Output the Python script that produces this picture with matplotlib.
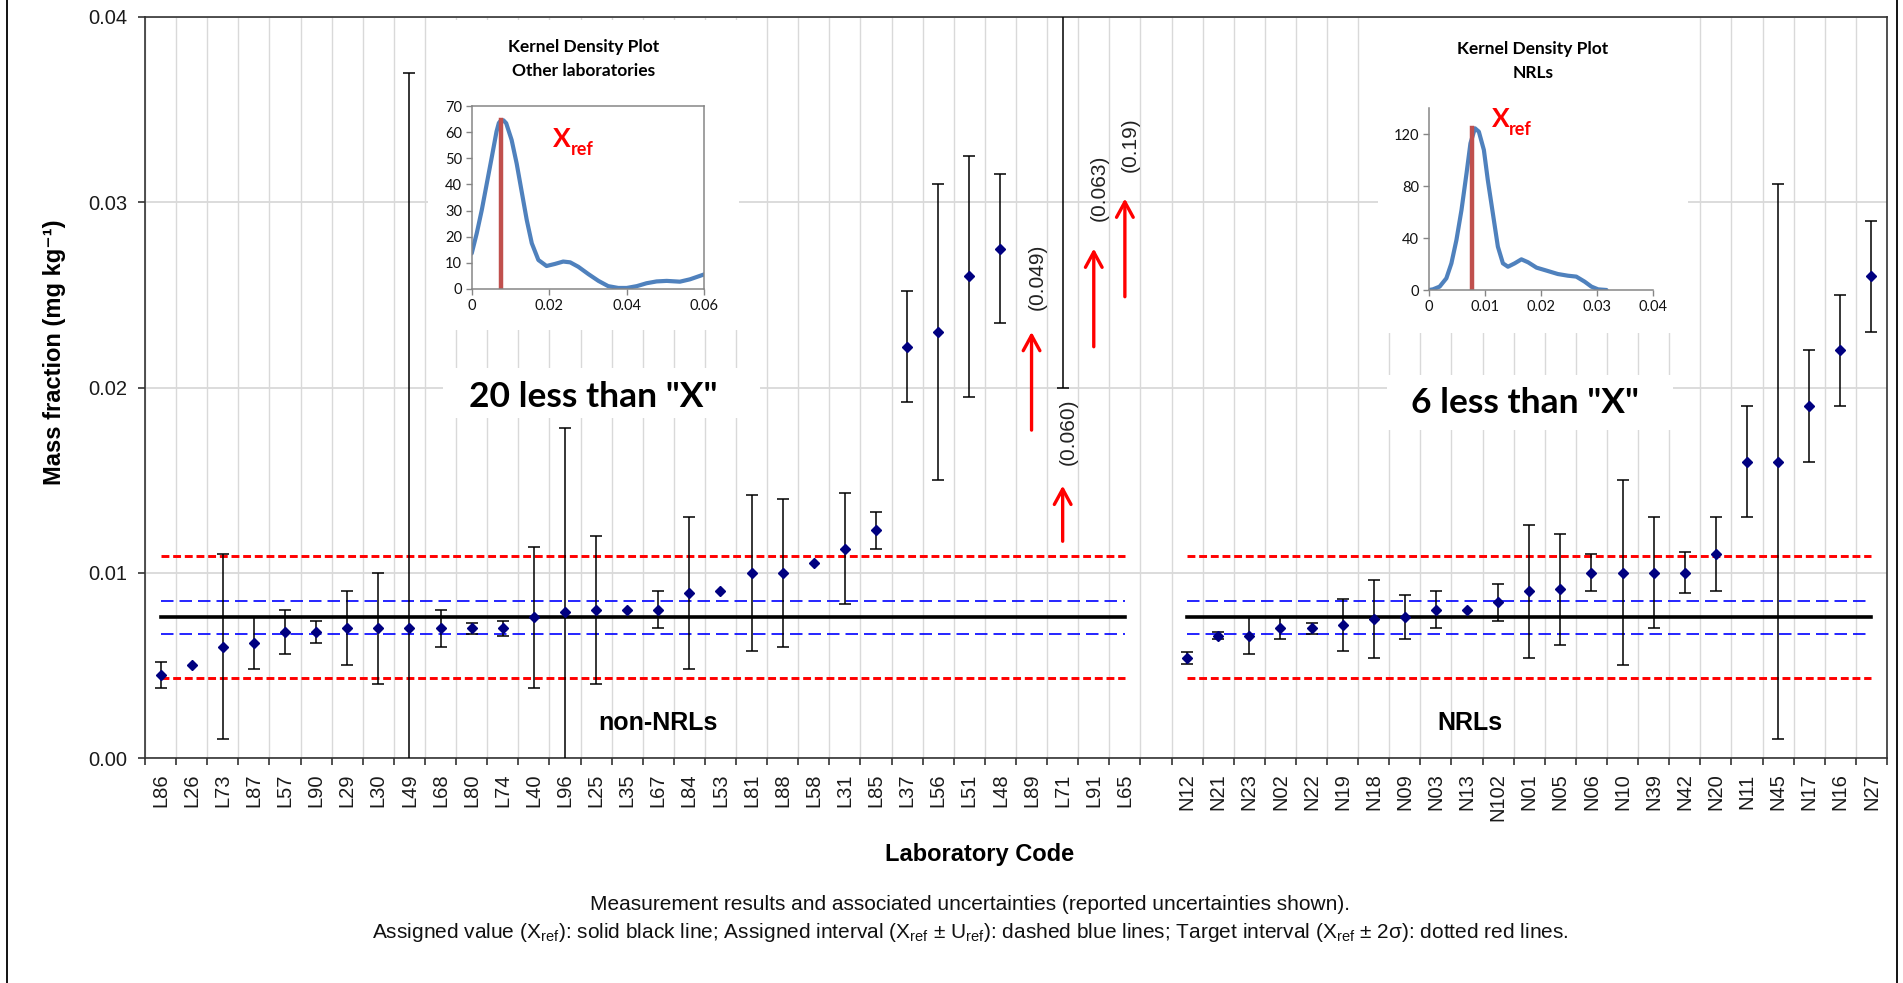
import numpy as np
import matplotlib
matplotlib.use('Agg')
import matplotlib.pyplot as plt
from matplotlib import font_manager
from matplotlib.lines import Line2D
from matplotlib.patches import Rectangle
from matplotlib.ticker import FormatStrFormatter

nan = np.nan

# results (mass fraction, mg/kg) and expanded uncertainties
labs_other = ['L86', 'L26', 'L73', 'L87', 'L57', 'L90', 'L29', 'L30', 'L49', 'L68',
              'L80', 'L74', 'L40', 'L96', 'L25', 'L35', 'L67', 'L84', 'L53', 'L81',
              'L88', 'L58', 'L31', 'L85', 'L37', 'L56', 'L51', 'L48', 'L89', 'L71',
              'L91', 'L65']
vals_other = [0.0045, 0.0050, 0.0060, 0.0062, 0.0068, 0.0068, 0.0070, 0.0070, 0.0070, 0.0070,
              0.0070, 0.0070, 0.0076, 0.0079, 0.0080, 0.0080, 0.0080, 0.0089, 0.0090, 0.0100,
              0.0100, 0.0105, 0.0113, 0.0123, 0.0222, 0.0230, 0.0260, 0.0275, 0.049, 0.060,
              0.063, 0.19]
unc_other = [0.0007, nan, 0.0050, 0.0014, 0.0012, 0.0006, 0.0020, 0.0030, 0.0300, 0.0010,
             0.0003, 0.0004, 0.0038, 0.0099, 0.0040, nan, 0.0010, 0.0041, nan, 0.0042,
             0.0040, nan, 0.0030, 0.0010, 0.0030, 0.0080, 0.0065, 0.0040, nan, 0.0400,
             nan, nan]

labs_nrl = ['N12', 'N21', 'N23', 'N02', 'N22', 'N19', 'N18', 'N09', 'N03', 'N13',
            'N102', 'N01', 'N05', 'N06', 'N10', 'N39', 'N42', 'N20', 'N11', 'N45',
            'N17', 'N16', 'N27']
vals_nrl = [0.0054, 0.0066, 0.0066, 0.0070, 0.0070, 0.0072, 0.0075, 0.0076, 0.0080, 0.0080,
            0.0084, 0.0090, 0.0091, 0.0100, 0.0100, 0.0100, 0.0100, 0.0110, 0.0160, 0.0160,
            0.0190, 0.0220, 0.0260]
unc_nrl = [0.0003, 0.0002, 0.0010, 0.0006, 0.0003, 0.0014, 0.0021, 0.0012, 0.0010, nan,
           0.0010, 0.0036, 0.0030, 0.0010, 0.0050, 0.0030, 0.0011, 0.0020, 0.0030, 0.0150,
           0.0030, 0.0030, 0.0030]

x_ref = 0.0076
u_ref = 0.0009
two_sigma = 0.0033

offscale_labs = ['L89', 'L71', 'L91', 'L65']
offscale_text = ['(0.049)', '(0.060)', '(0.063)', '(0.19)']

# kernel density curves
kde_other_x = [0, 0.0013, 0.0026, 0.0039, 0.0052, 0.0064, 0.0070, 0.0076, 0.0082, 0.0089,
               0.0103, 0.0116, 0.0129, 0.0142, 0.0155, 0.0172, 0.0193, 0.0215, 0.0236, 0.0254,
               0.0275, 0.0301, 0.0327, 0.0352, 0.0378, 0.0400, 0.0426, 0.0451, 0.0477, 0.0503,
               0.0537, 0.0563, 0.0600]
kde_other_y = [13.6, 21.3, 30.2, 40.4, 50.6, 60.2, 63.5, 64.6, 64.5, 63.4,
               57.0, 48.0, 37.2, 26.4, 17.5, 11.1, 8.8, 9.6, 10.5, 10.2,
               8.5, 5.7, 3.1, 1.1, 0.4, 0.4, 1.1, 2.2, 2.9, 3.1,
               2.8, 3.7, 5.6]
kde_nrl_x = [0, 0.0007, 0.0019, 0.0031, 0.0040, 0.0049, 0.0058, 0.0067, 0.0074, 0.0082,
             0.0089, 0.0098, 0.0105, 0.0114, 0.0123, 0.0132, 0.0141, 0.0153, 0.0165, 0.0177,
             0.0192, 0.0210, 0.0230, 0.0248, 0.0263, 0.0278, 0.0290, 0.0302, 0.0317]
kde_nrl_y = [0, 0.5, 2.6, 9.0, 20.5, 38.5, 61.5, 89.7, 112.8, 124.4,
             121.8, 107.7, 84.6, 59.0, 33.3, 20.5, 17.9, 20.5, 23.6, 21.3,
             17.2, 14.9, 12.3, 11.0, 10.3, 6.4, 2.6, 0.5, 0.0]

# ---- fonts ----
W, H = 1903, 983
installed = {f.name for f in font_manager.fontManager.ttflist}
if 'Liberation Sans Narrow' in installed:
    NARROW = 'Liberation Sans Narrow'
    tick_fs, note_fs, cap_fs = 17.5, 18, 18.2
else:
    NARROW = 'Liberation Sans'
    tick_fs, note_fs, cap_fs = 14.5, 15, 15
SANS = ['Liberation Sans', 'DejaVu Sans']
CAL = ['Lato', 'DejaVu Sans']

plt.rcParams['font.family'] = [NARROW, 'DejaVu Sans']
plt.rcParams['mathtext.fontset'] = 'custom'
plt.rcParams['mathtext.rm'] = NARROW
plt.rcParams['mathtext.it'] = NARROW + ':italic'
plt.rcParams['mathtext.bf'] = NARROW + ':bold'


def fx(px):
    return px / W


def fy(py):
    return 1 - py / H


fig = plt.figure(figsize=(W / 100, H / 100), dpi=100)
ax = fig.add_axes([fx(145), fy(758), 1742 / W, 741 / H])

labels = labs_other + [''] + labs_nrl
pos = np.arange(len(labels))
x_other = pos[:len(labs_other)]
x_nrl = pos[len(labs_other) + 1:]

# white panels behind the insets and the count notes
for x0, y0, x1, y1 in [(428, 20, 739, 330), (1378, 18, 1688, 333),
                       (443, 368, 760, 418), (1387, 375, 1673, 430)]:
    ax.add_patch(Rectangle((fx(x0), fy(y1)), (x1 - x0) / W, (y1 - y0) / H,
                           transform=fig.transFigure, facecolor='white',
                           edgecolor='none', zorder=1.5))

for xs in (x_other, x_nrl):
    ends = [xs[0], xs[-1]]
    ax.plot(ends, [x_ref, x_ref], color='black', lw=2.6, zorder=2)
    for s in (-1, 1):
        ax.plot(ends, [x_ref + s * u_ref] * 2, color='#0000FF', lw=1.2,
                dashes=(7.5, 3.6), zorder=2)
        ax.plot(ends, [x_ref + s * two_sigma] * 2, color='#FF0000', lw=2.1,
                dashes=(2.7, 1.3), zorder=2)

for xs, vs, us in [(x_other, vals_other, unc_other), (x_nrl, vals_nrl, unc_nrl)]:
    ax.errorbar(xs, vs, yerr=np.array(us), fmt='none', ecolor='black',
                elinewidth=1.1, capsize=4, capthick=1.1, zorder=3)
    ax.plot(xs, vs, 'D', color='#000080', ms=5, zorder=4)

# results beyond the scale: value label and arrow
label_y = [0.0260, 0.0176, 0.0308, 0.0331]
arrow_y = [(0.0177, 0.0230), (0.0117, 0.0147), (0.0222, 0.0275), (0.0249, 0.0302)]
for lab, txt, ly, (ya, yb) in zip(offscale_labs, offscale_text, label_y, arrow_y):
    i = labels.index(lab)
    ax.annotate(txt, xy=(i, ly), xytext=(4, 0), textcoords='offset points',
                rotation=90, ha='center', va='center', fontsize=note_fs,
                color='#222222', zorder=5)
    ax.annotate('', xy=(i, yb), xytext=(i, ya),
                arrowprops=dict(arrowstyle='->,head_length=0.55,head_width=0.3',
                                color='#FF0000', lw=2.4, mutation_scale=20,
                                shrinkA=0, shrinkB=0), zorder=5)

ax.set_xlim(-0.5, len(labels) - 0.5)
ax.set_ylim(0, 0.04)
ax.set_xticks(pos)
ax.set_xticklabels(labels, rotation=90, va='top', ha='center')
ax.set_xticks(np.arange(-0.5, len(labels)), minor=True)
ax.set_yticks(np.arange(0, 0.041, 0.01))
ax.yaxis.set_major_formatter(FormatStrFormatter('%.2f'))
ax.tick_params(axis='x', which='major', length=0, pad=11, labelsize=tick_fs,
               labelcolor='#1a1a1a')
ax.tick_params(axis='x', which='minor', length=5, width=1.1, direction='out',
               color='#222222')
ax.tick_params(axis='y', length=5, width=1.1, direction='out', pad=8,
               labelsize=tick_fs, labelcolor='#1a1a1a', color='#222222')
ax.set_axisbelow(True)
ax.grid(True, which='minor', axis='x', color='#D9D9D9', lw=1)
ax.grid(True, which='major', axis='y', color='#D9D9D9', lw=1.3)
for side in ['top', 'right', 'left', 'bottom']:
    ax.spines[side].set_color('#333333')
    ax.spines[side].set_linewidth(1.2)

ax.set_xlabel('Laboratory Code', family=SANS, fontweight='bold', fontsize=17)
ax.xaxis.set_label_coords((980 - 145) / 1742, -(855 - 758) / 741)
ax.xaxis.label.set_va('center')
ax.set_ylabel('Mass fraction (mg kg\u207b\u00b9)', family=SANS, fontweight='bold',
              fontsize=17)
ax.yaxis.set_label_coords((55 - 145) / 1742, (758 - 352) / 741)
ax.yaxis.label.set_va('center')

fig.text(fx(658), fy(723), 'non-NRLs', family=SANS, fontweight='bold', fontsize=18,
         ha='center', va='center')
fig.text(fx(1470), fy(723), 'NRLs', family=SANS, fontweight='bold', fontsize=18,
         ha='center', va='center')
fig.text(fx(593), fy(397), '20 less than "X"', family=CAL, fontweight='bold',
         fontsize=25.5, ha='center', va='center')
fig.text(fx(1525), fy(403), '6 less than "X"', family=CAL, fontweight='bold',
         fontsize=25.5, ha='center', va='center')


def kde_inset(rect, xs, ys, xlim, xticks, ylim, yticks, boxed):
    ins = fig.add_axes(rect)
    ins.plot(xs, ys, color='#4F81BD', lw=3, solid_joinstyle='round',
             solid_capstyle='round')
    ins.plot([x_ref, x_ref], [0, max(ys)], color='#C0504D', lw=3.2)
    ins.set_xlim(*xlim)
    ins.set_ylim(*ylim)
    ins.set_xticks(xticks)
    ins.set_xticklabels(['%g' % t for t in xticks])
    ins.set_yticks(yticks)
    ins.set_yticklabels(['%g' % t for t in yticks])
    for t in ins.get_xticklabels() + ins.get_yticklabels():
        t.set_family(CAL)
    ins.tick_params(length=4, width=1, color='#868686', labelsize=10.5,
                    labelcolor='#111111', pad=3)
    for side in ['top', 'right', 'left', 'bottom']:
        ins.spines[side].set_color('#868686')
        ins.spines[side].set_linewidth(1.1)
        if not boxed and side in ('top', 'right'):
            ins.spines[side].set_visible(False)
    return ins


kde_inset([fx(471.7), fy(289), 232.6 / W, 183 / H], kde_other_x, kde_other_y,
          (0, 0.06), [0, 0.02, 0.04, 0.06], (0, 70), list(range(0, 71, 10)), True)
kde_inset([fx(1429), fy(290), 224 / W, 182 / H], kde_nrl_x, kde_nrl_y,
          (0, 0.04), [0, 0.01, 0.02, 0.03, 0.04], (0, 140), [0, 40, 80, 120], False)

for cx, y1, y2, sub in [(584, 47, 71, 'Other laboratories'), (1533, 49, 73, 'NRLs')]:
    fig.text(fx(cx), fy(y1), 'Kernel Density Plot', family=CAL, fontweight='bold',
             fontsize=12.5, ha='center', va='center')
    fig.text(fx(cx), fy(y2), sub, family=CAL, fontweight='bold',
             fontsize=12.5, ha='center', va='center')

for xx, base, xr, base_r in [(553, 147, 571, 155), (1492, 127, 1509, 135)]:
    fig.text(fx(xx), fy(base), 'X', family=CAL, fontweight='bold', fontsize=19,
             color='#FF0000', ha='left', va='baseline')
    fig.text(fx(xr), fy(base_r), 'ref', family=CAL, fontweight='bold', fontsize=13,
             color='#FF0000', ha='left', va='baseline')

fig.text(fx(970), fy(905),
         'Measurement results and associated uncertainties (reported uncertainties shown).',
         fontsize=cap_fs, ha='center', va='center', color='#111111')
fig.text(fx(970), fy(932),
         r'Assigned value (X$_\mathrm{ref}$): solid black line; Assigned interval '
         r'(X$_\mathrm{ref}$ ± U$_\mathrm{ref}$): dashed blue lines; Target interval '
         r'(X$_\mathrm{ref}$ ± 2σ): dotted red lines.',
         fontsize=cap_fs, ha='center', va='center', color='#111111')

# outer frame lines left and right
for px in (7, 1897):
    fig.add_artist(Line2D([fx(px), fx(px)], [0, 1], color='black', lw=1.3))

fig.savefig('out.png', dpi=100, facecolor='white')
